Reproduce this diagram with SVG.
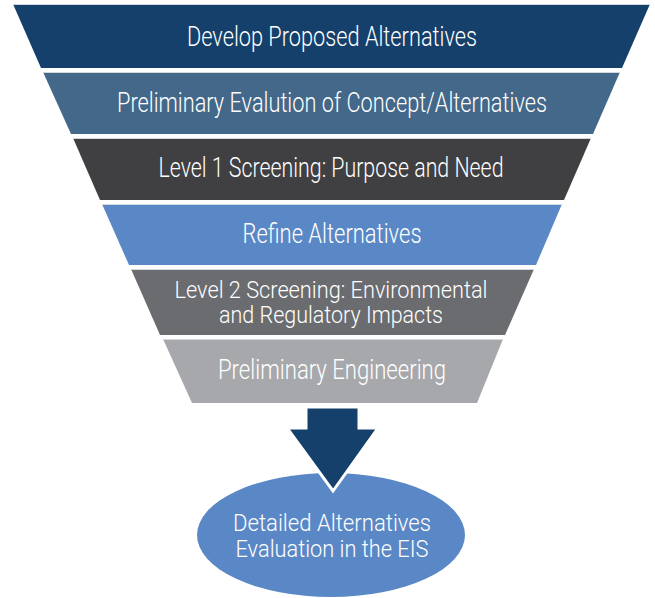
<svg xmlns="http://www.w3.org/2000/svg" width="655" height="598" viewBox="0 0 655 598">
<style>
  .lbl { font-family: Roboto, "Liberation Sans Narrow", "Liberation Sans", sans-serif; font-weight: 300; fill: #ffffff; text-anchor: middle; }
  .big { font-size: 28px; }
  .sm { font-size: 23px; }
  .edge { fill: none; stroke: #d5d8dc; stroke-width: 1; }
</style>
<rect width="655" height="598" fill="#ffffff"/>
<g id="band1">
  <polygon points="13,4 650,4 622,68 41,68" fill="#15406b"/>
  <line class="edge" x1="13" y1="4.5" x2="650" y2="4.5"/>
  <text class="lbl big" x="332" y="46" textLength="290" lengthAdjust="spacingAndGlyphs">Develop Proposed Alternatives</text>
</g>
<g id="band2">
  <polygon points="43,72 620,72 593,134 71,134" fill="#436889"/>
  <line class="edge" x1="43" y1="72.5" x2="620" y2="72.5"/>
  <text class="lbl big" x="332" y="112" textLength="430" lengthAdjust="spacingAndGlyphs">Preliminary Evalution of Concept/Alternatives</text>
</g>
<g id="band3">
  <polygon points="73,138 591,138 564,200 100,200" fill="#404042"/>
  <line class="edge" x1="73" y1="138.5" x2="591" y2="138.5"/>
  <text class="lbl big" x="331" y="177" textLength="345" lengthAdjust="spacingAndGlyphs">Level 1 Screening: Purpose and Need</text>
</g>
<g id="band4">
  <polygon points="102,204 562,204 536,265 129,265" fill="#5a88c6"/>
  <line class="edge" x1="102" y1="204.5" x2="562" y2="204.5"/>
  <text class="lbl big" x="332" y="243" textLength="179" lengthAdjust="spacingAndGlyphs">Refine Alternatives</text>
</g>
<g id="band5">
  <polygon points="131,269 534,269 505,335 160,335" fill="#6b6c70"/>
  <line class="edge" x1="131" y1="269.5" x2="534" y2="269.5"/>
  <text class="lbl sm" x="331" y="298" textLength="313" lengthAdjust="spacingAndGlyphs">Level 2 Screening: Environmental</text>
  <text class="lbl sm" x="331" y="323" textLength="224" lengthAdjust="spacingAndGlyphs">and Regulatory Impacts</text>
</g>
<g id="band6">
  <polygon points="163,339 503,339 477,403 192,403" fill="#a7a8ab"/>
  <line class="edge" x1="163" y1="339.5" x2="503" y2="339.5"/>
  <text class="lbl big" x="332" y="379" textLength="228" lengthAdjust="spacingAndGlyphs">Preliminary Engineering</text>
</g>
<g id="eis">
  <ellipse cx="331" cy="535" rx="134" ry="62" fill="#5a88c6"/>
  <text class="lbl sm" x="332" y="531" textLength="198" lengthAdjust="spacingAndGlyphs">Detailed Alternatives</text>
  <text class="lbl sm" x="332" y="557" textLength="193" lengthAdjust="spacingAndGlyphs">Evaluation in the EIS</text>
</g>
<g id="connectors">
  <polygon points="306,407 359,407 359,428 378,428 333,491 287,428 306,428" fill="#15406b" stroke="#ffffff" stroke-width="3" stroke-linejoin="miter"/>
</g>
</svg>
